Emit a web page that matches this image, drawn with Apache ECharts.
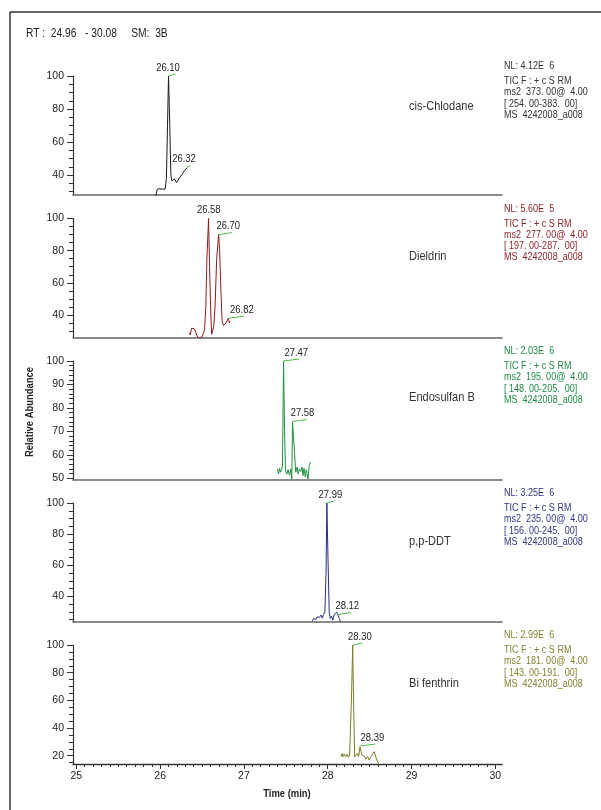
<!DOCTYPE html>
<html><head><meta charset="utf-8">
<script src="https://cdn.jsdelivr.net/npm/echarts@6/dist/echarts.min.js"></script>
<style>html,body{margin:0;padding:0;background:#fff}#c{width:601px;height:810px}</style>
</head><body><div id="c"></div>
<script>
// ---------------- data ----------------
const headerText = 'RT :  24.96   - 30.08     SM:  3B';
const xTickLabels = [25, 26, 27, 28, 29, 30];
const compounds = ['cis-Chlodane', 'Dieldrin', 'Endosulfan B', 'p,p-DDT', 'Bi fenthrin'];
const nlValues = ['NL: 4.12E  6', 'NL: 5.60E  5', 'NL: 2.03E  6', 'NL: 3.25E  6', 'NL: 2.99E  6'];
const ticLine = 'TIC F : + c S RM';
const scanFilters = ['ms2  373. 00@  4.00', 'ms2  277. 00@  4.00', 'ms2  195. 00@  4.00', 'ms2  235. 00@  4.00', 'ms2  181. 00@  4.00'];
const massRanges = ['[ 254. 00-383.  00]', '[ 197. 00-287.  00]', '[ 148. 00-205.  00]', '[ 156. 00-245.  00]', '[ 143. 00-191.  00]'];
const fileName = 'MS  4242008_a008';
const yMins = [28, 26, 49.3, 23.5, 14];
const yMajorTicks = [[40, 60, 80, 100], [40, 60, 80, 100], [50, 60, 70, 80, 90, 100], [40, 60, 80, 100], [20, 40, 60, 80, 100]];
const yMinorStep = [5, 5, 2, 5, 5];

const rtChlordane = [25.945, 25.955, 25.966, 25.98, 25.995, 26.01, 26.03, 26.046, 26.06, 26.075, 26.088, 26.10, 26.115, 26.128, 26.14, 26.15, 26.16, 26.172, 26.185, 26.195, 26.205, 26.215, 26.224, 26.234, 26.244, 26.254, 26.264, 26.274, 26.283, 26.30, 26.323];
const abChlordane = [25, 29, 31.5, 32, 31.8, 32.2, 31.5, 31, 31.6, 38, 70, 100, 70, 40, 36.5, 37.5, 35.5, 37.8, 37, 35.5, 34.7, 37, 36.7, 38.5, 39.6, 38.8, 40.6, 41.5, 42.2, 43, 44.6];

const rtDieldrin = [26.35, 26.36, 26.375, 26.39, 26.405, 26.42, 26.44, 26.46, 26.48, 26.50, 26.515, 26.53, 26.545, 26.558, 26.578, 26.59, 26.605, 26.615, 26.625, 26.64, 26.655, 26.675, 26.698, 26.71, 26.725, 26.74, 26.755, 26.77, 26.785, 26.80, 26.815, 26.825, 26.835];
const abDieldrin = [29, 27.6, 31.8, 30.6, 31.5, 30.1, 27, 25.5, 25.3, 26.5, 28.5, 31, 45, 75, 100, 70, 40, 28, 29, 33, 45, 75, 90, 80, 55, 36, 33.3, 34, 35, 36, 38, 35, 36];

const rtEndosulfan = [27.401, 27.413, 27.425, 27.437, 27.448, 27.46, 27.473, 27.485, 27.496, 27.512, 27.527, 27.543, 27.559, 27.571, 27.58, 27.592, 27.606, 27.618, 27.634, 27.646, 27.662, 27.678, 27.693, 27.705, 27.717, 27.733, 27.745, 27.764, 27.78, 27.796];
const abEndosulfan = [54, 51.9, 54.3, 52.6, 53.7, 55.2, 100, 70, 53.2, 51.8, 53.7, 51.4, 54, 49.7, 74, 74.3, 59.7, 52.6, 54.8, 51.9, 54, 52.9, 54.8, 51.2, 54.3, 50.5, 53.7, 49.7, 55.5, 56.9];

const rtDDT = [27.816, 27.832, 27.856, 27.871, 27.887, 27.903, 27.919, 27.935, 27.95, 27.966, 27.98, 27.99, 28.003, 28.018, 28.03, 28.045, 28.061, 28.077, 28.093, 28.108, 28.12, 28.14, 28.152];
const abDDT = [24, 25.8, 25, 26.7, 27.3, 26.6, 28, 26, 28.3, 30, 54.6, 100, 65, 29.7, 25.8, 27.3, 24.7, 28.3, 29.1, 29.7, 28.3, 25.8, 23.6];

const rtBifenthrin = [28.16, 28.172, 28.183, 28.199, 28.215, 28.231, 28.247, 28.262, 28.274, 28.286, 28.298, 28.31, 28.322, 28.337, 28.353, 28.369, 28.385, 28.395, 28.408, 28.424, 28.44, 28.456, 28.476, 28.495, 28.515, 28.535, 28.555, 28.57, 28.586, 28.602, 28.614];
const abBifenthrin = [19.3, 21.7, 19.3, 21.2, 19.3, 21, 18.8, 20.5, 21.7, 67.3, 100, 55, 19.3, 18.1, 21.7, 19.3, 26.5, 27, 20.5, 21.7, 19.3, 17.4, 19.3, 16.9, 19.3, 20.5, 22.9, 21.7, 16.9, 15.7, 13.3];

const peakRts = [[26.10, 26.32], [26.58, 26.70, 26.82], [27.47, 27.58], [27.99, 28.12], [28.30, 28.39]];
const peakHeights = [[100, 44.6], [100, 90, 38], [100, 74.2], [100, 28.3], [100, 27]];
const peakLabels = [['26.10', '26.32'], ['26.58', '26.70', '26.82'], ['27.47', '27.58'], ['27.99', '28.12'], ['28.30', '28.39']];

// ---------------- styles ----------------
const FONT = '"Liberation Sans Narrow","Liberation Sans",Arial,sans-serif';
const NARROW = 0.82;
const traceColors = ['#1a1a1a', '#8c1c1c', '#1f8f3f', '#2b2f86', '#7e7b25'];
const infoColors = ['#333333', '#8e1b1e', '#1e8a45', '#303584', '#858030'];
const leaderLen = [[7, 3.5], [0, 13, 15], [16, 14], [7.5, 13], [9.5, 15]];
const labelDx = [[-0.5, -3], [0, 9.5, 13], [13, 10], [3.5, 9.5], [7, 12]];
const panelTops = [76, 218.5, 361, 503, 645];
const GRID_LEFT = 73, GRID_W = 429, GRID_H = 119;
const X_MIN = 24.96, X_MAX = 30.08;
const nameY = [106, 256, 397, 541, 683];

const traces = [
  [rtChlordane, abChlordane], [rtDieldrin, abDieldrin], [rtEndosulfan, abEndosulfan],
  [rtDDT, abDDT], [rtBifenthrin, abBifenthrin]
];

const chart = echarts.init(document.getElementById('c'), null, {renderer: 'canvas'});

const grids = [], xAxes = [], yAxes = [], series = [], minorY = [];
for (let k = 0; k < 2; k++) {
  for (let i = 0; i < 5; i++) grids.push({left: GRID_LEFT, top: panelTops[i], width: GRID_W, height: GRID_H});
}
const xMinor = [];
for (let t = xTickLabels[0] * 10; t <= xTickLabels[xTickLabels.length - 1] * 10; t++) {
  if (t % 10 !== 0) xMinor.push(t / 10);
}
for (let i = 0; i < 5; i++) {
  const last = i === 4;
  xAxes.push({
    gridIndex: i, type: 'value', min: X_MIN, max: X_MAX,
    axisLine: {show: true, onZero: false, lineStyle: {color: last ? '#333' : '#666', width: last ? 1.3 : 1.6}},
    axisTick: {show: last, length: 5, customValues: xTickLabels, lineStyle: {color: '#333', width: 1}},
    axisLabel: {show: last, customValues: xTickLabels, margin: 7, fontFamily: FONT, fontSize: 10.5, color: '#222'},
    splitLine: {show: false}
  });
  const minor = [];
  for (let v = Math.ceil(yMins[i] / yMinorStep[i]) * yMinorStep[i]; v <= 100; v += yMinorStep[i]) {
    if (yMajorTicks[i].indexOf(v) < 0) minor.push(v);
  }
  minorY.push(minor);
  yAxes.push({
    gridIndex: i, type: 'value', min: yMins[i], max: 100,
    axisLine: {show: true, lineStyle: {color: '#333', width: 1.2}},
    axisTick: {show: true, length: 6, customValues: yMajorTicks[i], lineStyle: {color: '#333', width: 1}},
    axisLabel: {customValues: yMajorTicks[i], margin: 9, fontFamily: FONT, fontSize: 10.5, color: '#222'},
    splitLine: {show: false}
  });
  series.push({
    type: 'line', xAxisIndex: i, yAxisIndex: i,
    data: traces[i][0].map((x, j) => [x, traces[i][1][j]]),
    showSymbol: false, symbol: 'none', silent: true, clip: true,
    lineStyle: {color: traceColors[i], width: 1}
  });
}
// overlay axes for minor ticks
for (let i = 0; i < 5; i++) {
  const last = i === 4;
  xAxes.push({
    gridIndex: 5 + i, type: 'value', min: X_MIN, max: X_MAX, show: last,
    axisLine: {show: false, onZero: false},
    axisTick: {show: last, length: 3, customValues: xMinor, lineStyle: {color: '#333', width: 1}},
    axisLabel: {show: false}, splitLine: {show: false}
  });
  yAxes.push({
    gridIndex: 5 + i, type: 'value', min: yMins[i], max: 100,
    axisLine: {show: false},
    axisTick: {show: true, length: 4, customValues: minorY[i], lineStyle: {color: '#333', width: 1}},
    axisLabel: {show: false}, splitLine: {show: false}
  });
}

chart.setOption({
  animation: false,
  backgroundColor: '#fff',
  grid: grids, xAxis: xAxes, yAxis: yAxes, series: series
});

function txt(x, y, s, o) {
  o = o || {};
  const al = o.align || 'left', va = o.va || 'middle';
  return {type: 'text', x: x, y: y, rotation: o.rot || 0, scaleX: o.sx || NARROW, silent: true, z: 10,
    style: {text: s, fill: o.color || '#222', font: (o.weight || 'normal') + ' ' + (o.size || 10.5) + 'px ' + FONT,
      textAlign: al, textVerticalAlign: va, align: al, verticalAlign: va}};
}

const g = [];
g.push({type: 'line', silent: true, shape: {x1: 10, y1: 12, x2: 601, y2: 12}, style: {stroke: '#333', lineWidth: 1.5}});
g.push({type: 'line', silent: true, shape: {x1: 10, y1: 12, x2: 10, y2: 810}, style: {stroke: '#333', lineWidth: 1.5}});
g.push(txt(26, 34, headerText, {size: 12.5, color: '#222'}));
g.push(txt(30, 412, 'Relative Abundance', {size: 11.5, weight: 'bold', align: 'center', rot: Math.PI / 2}));
g.push(txt(287, 794, 'Time (min)', {size: 11.5, weight: 'bold', align: 'center'}));
for (let i = 0; i < 5; i++) {
  const top = panelTops[i];
  g.push(txt(409, nameY[i], compounds[i], {size: 13.5, color: '#333'}));
  g.push(txt(504, top - 10, nlValues[i], {color: infoColors[i], size: 11}));
  const lines = [ticLine, scanFilters[i], massRanges[i], fileName];
  lines.forEach((s, k) => g.push(txt(504, top + 5 + k * 11.3, s, {color: infoColors[i], size: 11})));
  peakRts[i].forEach((rt, k) => {
    const p = chart.convertToPixel({gridIndex: i}, [rt, peakHeights[i][k]]);
    const L = leaderLen[i][k];
    if (L > 0) {
      g.push({type: 'line', silent: true, z: 9, shape: {x1: p[0], y1: p[1], x2: p[0] + L, y2: p[1] - 2},
        style: {stroke: '#4cbb4c', lineWidth: 1}});
    }
    g.push(txt(p[0] + labelDx[i][k], p[1] - 2.5, peakLabels[i][k], {align: 'center', va: 'bottom', color: '#222', size: 11.5}));
  });
}
chart.setOption({graphic: g});
</script>
</body></html>
